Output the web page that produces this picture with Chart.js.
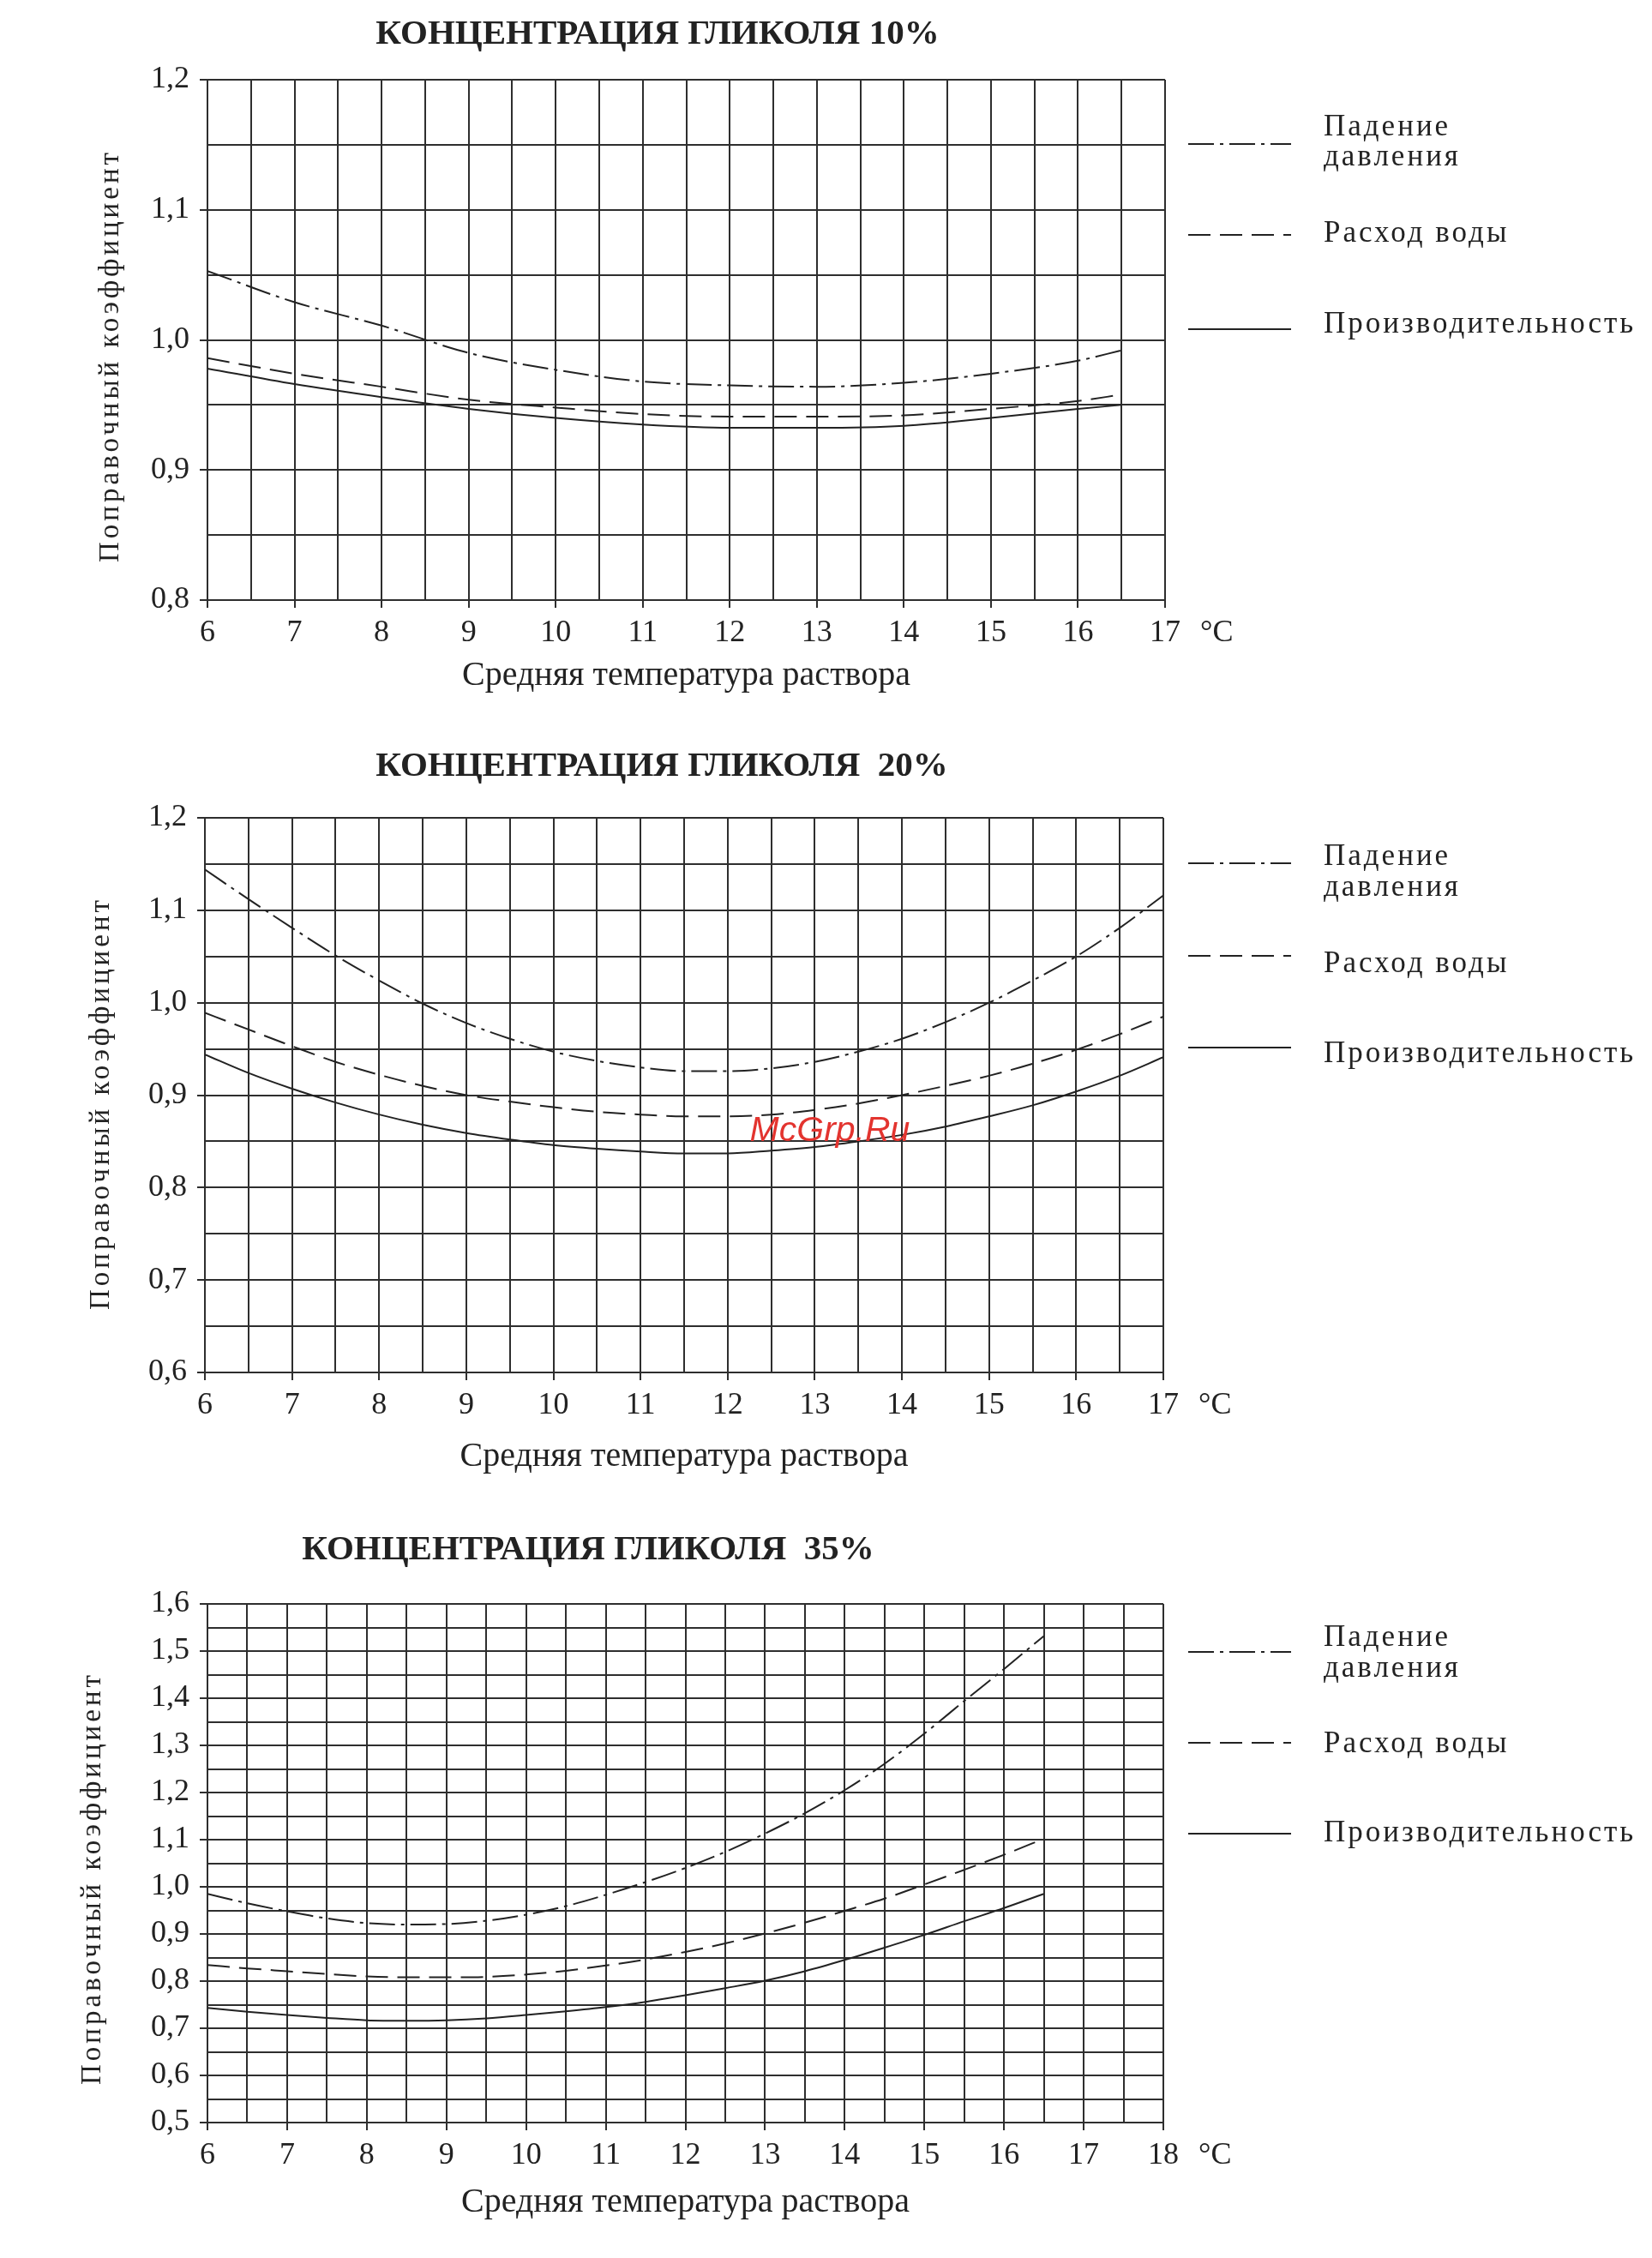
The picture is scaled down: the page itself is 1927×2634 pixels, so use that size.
<!DOCTYPE html>
<html>
<head>
<meta charset="utf-8">
<script src="https://cdn.jsdelivr.net/npm/chart.js@4.4.0/dist/chart.umd.min.js"></script>
<style>
  html, body { margin: 0; padding: 0; background: #fff; }
  body { width: 1927px; height: 2634px; position: relative; overflow: hidden; }
  .box { position: absolute; left: 0; width: 1927px; }
  canvas { display: block; }
</style>
</head>
<body>
<div class="box" style="top:0"><canvas id="c10" width="1927" height="850"></canvas></div>
<div class="box" style="top:850px"><canvas id="c20" width="1927" height="900"></canvas></div>
<div class="box" style="top:1750px"><canvas id="c35" width="1927" height="884"></canvas></div>
<script>
// ---- data ----
const seriesNames = ['Падение давления', 'Расход воды', 'Производительность'];
const legendText = [['Падение', 'давления'], ['Расход воды'], ['Производительность']];
const yTitle = 'Поправочный коэффициент';
const xTitle = 'Средняя температура раствора';

// 10 %
const temps10 = [6, 7, 8, 9, 10, 11, 12, 13, 14, 15, 16, 16.5];
const pressure10 = [1.053, 1.029, 1.011, 0.990, 0.977, 0.968, 0.965, 0.964, 0.967, 0.974, 0.984, 0.992];
const flow10 = [0.986, 0.974, 0.964, 0.954, 0.948, 0.943, 0.941, 0.941, 0.942, 0.947, 0.953, 0.958];
const capacity10 = [0.978, 0.966, 0.956, 0.947, 0.940, 0.935, 0.9325, 0.9325, 0.934, 0.940, 0.947, 0.950];

// 20 %
const temps20 = [6, 6.5, 7, 7.5, 8, 8.5, 9, 9.5, 10, 10.5, 11, 11.5, 12, 12.5, 13, 13.5, 14, 14.5, 15, 15.5, 16, 16.5, 17];
const pressure20 = [1.144, 1.112, 1.081, 1.051, 1.024, 0.999, 0.978, 0.961, 0.947, 0.937, 0.930, 0.926, 0.926, 0.929, 0.936, 0.947, 0.961, 0.979, 1.000, 1.024, 1.050, 1.081, 1.116];
const flow20 = [0.989, 0.971, 0.953, 0.936, 0.922, 0.910, 0.900, 0.893, 0.887, 0.882, 0.879, 0.877, 0.877, 0.879, 0.884, 0.891, 0.900, 0.910, 0.921, 0.934, 0.949, 0.966, 0.985];
const capacity20 = [0.944, 0.924, 0.907, 0.892, 0.879, 0.868, 0.859, 0.852, 0.846, 0.842, 0.839, 0.837, 0.837, 0.840, 0.844, 0.850, 0.857, 0.866, 0.877, 0.889, 0.904, 0.921, 0.941];

// 35 %
const temps35 = [6, 6.5, 7, 7.5, 8, 8.5, 9, 9.5, 10, 10.5, 11, 11.5, 12, 12.5, 13, 13.5, 14, 14.5, 15, 15.5, 16, 16.5];
const pressure35 = [0.985, 0.965, 0.948, 0.933, 0.923, 0.920, 0.921, 0.928, 0.941, 0.959, 0.983, 1.010, 1.040, 1.074, 1.113, 1.156, 1.205, 1.261, 1.325, 1.394, 1.462, 1.532];
const flow35 = [0.834, 0.827, 0.821, 0.815, 0.810, 0.808, 0.808, 0.809, 0.814, 0.822, 0.833, 0.846, 0.862, 0.880, 0.901, 0.924, 0.949, 0.975, 1.005, 1.036, 1.068, 1.102];
const capacity35 = [0.743, 0.735, 0.728, 0.722, 0.717, 0.716, 0.717, 0.721, 0.728, 0.736, 0.745, 0.756, 0.770, 0.785, 0.801, 0.821, 0.845, 0.871, 0.898, 0.927, 0.955, 0.985];

const INK = '#222';
const GRID = '#2e2e2e';
const dashes = [[30, 7, 4, 7], [26, 11], []];

const isMajor = v => Math.abs(v * 10 - Math.round(v * 10)) < 1e-6;
const isInt = v => Math.abs(v - Math.round(v)) < 1e-6;

// titles, legend, unit label, rotated y title
const decor = {
  id: 'decor',
  afterDraw(chart, args, o) {
    const ctx = chart.ctx;
    const xs = chart.scales.x;
    ctx.save();
    ctx.fillStyle = INK;
    ctx.textBaseline = 'middle';

    ctx.font = 'bold 41px "Liberation Serif"';
    ctx.textAlign = 'center';
    ctx.fillText(o.title, o.titleX, o.titleY);

    ctx.font = '36px "Liberation Serif"';
    ctx.textAlign = 'left';
    ctx.fillText('°C', xs.right + 41, xs.top + 39);

    // legend
    ctx.font = '35px "Liberation Serif"';
    ctx.letterSpacing = '3px';
    chart.data.datasets.forEach((ds, i) => {
      const e = o.legend[i];
      ctx.strokeStyle = INK;
      ctx.lineWidth = 2;
      ctx.setLineDash(ds.borderDash);
      ctx.beginPath();
      ctx.moveTo(1386, e.line);
      ctx.lineTo(1506, e.line);
      ctx.stroke();
      legendText[i].forEach((t, j) => ctx.fillText(t, 1544, e.text[j]));
    });
    ctx.setLineDash([]);

    // y axis title
    ctx.font = '33px "Liberation Serif"';
    ctx.letterSpacing = '4px';
    ctx.textAlign = 'center';
    ctx.translate(o.yTitleX, o.yTitleY);
    ctx.rotate(-Math.PI / 2);
    ctx.fillText(yTitle, 0, 0);
    ctx.restore();

    if (o.mark) {
      ctx.save();
      ctx.font = 'italic 41px "Liberation Sans"';
      ctx.fillStyle = '#e3342f';
      ctx.textAlign = 'center';
      ctx.textBaseline = 'middle';
      ctx.fillText(o.mark.text, o.mark.x, o.mark.y);
      ctx.restore();
    }
  }
};

function makeChart(id, c) {
  const vals = [c.pressure, c.flow, c.capacity];
  const H = document.getElementById(id).height;
  const tickFont = { family: 'Liberation Serif', size: 36, lineHeight: 1 };
  const grid = major => ({
    color: GRID,
    lineWidth: 2,
    tickLength: 9,
    tickColor: ctx => (ctx.tick && major(ctx.tick.value)) ? GRID : 'rgba(0,0,0,0)'
  });
  return new Chart(document.getElementById(id), {
    type: 'line',
    data: {
      datasets: seriesNames.map((name, i) => ({
        label: name,
        data: c.temps.map((t, k) => ({ x: t, y: vals[i][k] })),
        borderColor: INK,
        borderWidth: 2,
        borderDash: dashes[i],
        pointRadius: 0,
        fill: false,
        cubicInterpolationMode: 'monotone'
      }))
    },
    options: {
      responsive: false,
      animation: false,
      layout: { padding: { top: c.area.top, right: 1927 - c.area.right, bottom: 0, left: 0 } },
      plugins: {
        legend: { display: false },
        tooltip: { enabled: false },
        decor: c.decor
      },
      scales: {
        x: {
          type: 'linear',
          min: c.xMin, max: c.xMax,
          ticks: {
            stepSize: 0.5, autoSkip: false, maxRotation: 0, padding: 12,
            color: INK, font: tickFont,
            callback: v => isInt(v) ? String(Math.round(v)) : ''
          },
          grid: grid(isInt),
          border: { color: GRID, width: 2 },
          title: {
            display: true, text: xTitle, color: INK,
            font: { family: 'Liberation Serif', size: 40, lineHeight: 1.2 },
            padding: { top: 0, bottom: c.xTitlePad }
          },
          afterFit: s => { s.height = H - c.area.bottom; }
        },
        y: {
          type: 'linear',
          min: c.yMin, max: c.yMax,
          ticks: {
            stepSize: 0.05, autoSkip: false, padding: 12,
            color: INK, font: tickFont,
            callback: v => isMajor(v) ? v.toFixed(1).replace('.', ',') : ''
          },
          grid: grid(isMajor),
          border: { color: GRID, width: 2 },
          afterFit: s => { s.width = c.area.left; }
        }
      }
    },
    plugins: [decor]
  });
}

makeChart('c10', {
  temps: temps10, pressure: pressure10, flow: flow10, capacity: capacity10,
  xMin: 6, xMax: 17, yMin: 0.8, yMax: 1.2,
  area: { left: 242, right: 1359, top: 93, bottom: 700 },
  xTitlePad: 38,
  decor: {
    title: 'КОНЦЕНТРАЦИЯ ГЛИКОЛЯ 10%', titleX: 767, titleY: 40,
    yTitleX: 129, yTitleY: 415,
    legend: [{ line: 168, text: [149, 184] }, { line: 274, text: [273] }, { line: 384, text: [379] }]
  }
});

makeChart('c20', {
  temps: temps20, pressure: pressure20, flow: flow20, capacity: capacity20,
  xMin: 6, xMax: 17, yMin: 0.6, yMax: 1.2,
  area: { left: 239, right: 1357, top: 104, bottom: 751 },
  xTitlePad: 27,
  decor: {
    title: 'КОНЦЕНТРАЦИЯ ГЛИКОЛЯ  20%', titleX: 772, titleY: 44,
    yTitleX: 118, yTitleY: 437,
    legend: [{ line: 157, text: [150, 186] }, { line: 265, text: [275] }, { line: 372, text: [380] }],
    mark: { text: 'McGrp.Ru', x: 968, y: 470 }
  }
});

makeChart('c35', {
  temps: temps35, pressure: pressure35, flow: flow35, capacity: capacity35,
  xMin: 6, xMax: 18, yMin: 0.5, yMax: 1.6,
  area: { left: 242, right: 1357, top: 121, bottom: 726 },
  xTitlePad: 41,
  decor: {
    title: 'КОНЦЕНТРАЦИЯ ГЛИКОЛЯ  35%', titleX: 686, titleY: 58,
    yTitleX: 108, yTitleY: 441,
    legend: [{ line: 177, text: [161, 197] }, { line: 283, text: [285] }, { line: 389, text: [389] }]
  }
});
</script>
</body>
</html>
